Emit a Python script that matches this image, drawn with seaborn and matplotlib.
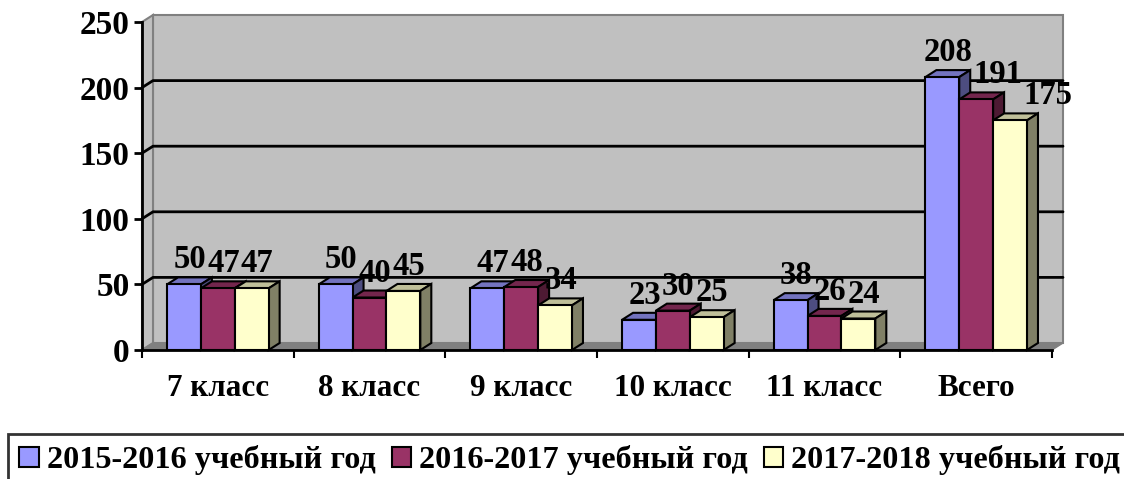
import pandas as pd
import matplotlib.pyplot as plt
import matplotlib.transforms as mtransforms
from matplotlib.patches import Polygon, Patch
import seaborn as sns

categories = ['7 класс', '8 класс', '9 класс', '10 класс', '11 класс', 'Всего']
years = ['2015-2016 учебный год', '2016-2017 учебный год', '2017-2018 учебный год']
values_2015 = [50, 50, 47, 23, 38, 208]
values_2016 = [47, 40, 48, 30, 26, 191]
values_2017 = [47, 45, 34, 25, 24, 175]
colors = ['#9999FF', '#993366', '#FFFFCC']
y_ticks = [0, 50, 100, 150, 200, 250]

W, H = 1124, 479
DX, DY = 11, 7  # depth offset of the 3D effect, pixels


def shade(hex_color, k):
    r, g, b = (int(hex_color[i:i + 2], 16) for i in (1, 3, 5))
    return (r * k / 255, g * k / 255, b * k / 255)


def build_frame():
    rows = []
    for year, vals in zip(years, [values_2015, values_2016, values_2017]):
        for cat, v in zip(categories, vals):
            rows.append({'category': cat, 'year': year, 'value': v})
    return pd.DataFrame(rows)


def px(x, y_top):
    # pixel coords measured from top-left -> display coords
    return (x, H - y_top)


def main():
    df = build_frame()
    sns.set_style('white')
    plt.rcParams['font.family'] = ['Liberation Serif', 'DejaVu Serif']
    plt.rcParams['font.weight'] = 'bold'
    for key in ('text.color', 'axes.labelcolor', 'xtick.color', 'ytick.color'):
        plt.rcParams[key] = 'black'

    fig = plt.figure(figsize=(W / 100, H / 100), dpi=100)
    x0, x1, ytop, ybot = 142, 1052, 22, 350
    ax = fig.add_axes([x0 / W, (H - ybot) / H, (x1 - x0) / W, (ybot - ytop) / H])
    ax.patch.set_visible(False)

    sns.barplot(data=df, x='category', y='value', hue='year', hue_order=years,
                palette=colors, saturation=1, width=0.67, gap=0, edgecolor='black',
                linewidth=1.5, legend=False, ax=ax, zorder=3)
    ax.set_xlim(-0.5, len(categories) - 0.5)
    ax.set_ylim(0, 250)
    ax.set_yticks(y_ticks)
    ax.set_xlabel('')
    ax.set_ylabel('')
    ident = mtransforms.IdentityTransform()

    # walls and floor
    wall = Polygon([px(x0 + DX, ytop - DY), px(x1 + DX, ytop - DY),
                    px(x1 + DX, ybot - DY), px(x0 + DX, ybot - DY)],
                   closed=True, facecolor='#C0C0C0', edgecolor='#808080',
                   lw=1.5, transform=ident, clip_on=False, zorder=0)
    side = Polygon([px(x0, ytop), px(x0 + DX, ytop - DY),
                    px(x0 + DX, ybot - DY), px(x0, ybot)],
                   closed=True, facecolor='#C0C0C0', edgecolor='#808080',
                   lw=1.5, transform=ident, clip_on=False, zorder=0)
    floor = Polygon([px(x0, ybot), px(x0 + DX, ybot - DY),
                     px(x1 + DX, ybot - DY), px(x1, ybot)],
                    closed=True, facecolor='#808080', edgecolor='#808080',
                    lw=1, transform=ident, clip_on=False, zorder=0.5)
    for p in (wall, side, floor):
        ax.add_patch(p)

    # gridlines on the back wall
    for v in y_ticks[1:-1]:
        yd = ax.transData.transform((0, v))[1]
        ax.plot([x0, x0 + DX, x1 + DX], [yd, yd + DY, yd + DY], color='black',
                lw=2, transform=ident, clip_on=False, zorder=1)

    # 3D faces of the bars
    bars = sorted([p for p in ax.patches if hasattr(p, 'get_width') and p.get_height() > 0
                   and p.get_zorder() == 3], key=lambda p: p.get_x())
    labels = []
    for k, bar in enumerate(bars):
        fc = bar.get_facecolor()
        hexc = '#%02X%02X%02X' % tuple(int(round(c * 255)) for c in fc[:3])
        (bx0, by0), (bx1, by1) = ax.transData.transform(
            [(bar.get_x(), 0), (bar.get_x() + bar.get_width(), bar.get_height())])
        z = 3 + 0.01 * k
        bar.set_zorder(z + 0.005)
        top = Polygon([(bx0, by1), (bx1, by1), (bx1 + DX, by1 + DY), (bx0 + DX, by1 + DY)],
                      closed=True, facecolor=shade(hexc, 0.75), edgecolor='black',
                      lw=1.5, transform=ident, clip_on=False, zorder=z)
        sidef = Polygon([(bx1, by0), (bx1 + DX, by0 + DY), (bx1 + DX, by1 + DY), (bx1, by1)],
                        closed=True, facecolor=shade(hexc, 0.5), edgecolor='black',
                        lw=1.5, transform=ident, clip_on=False, zorder=z)
        ax.add_patch(top)
        ax.add_patch(sidef)
        ann = ax.annotate(f'{int(round(bar.get_height()))}',
                          xy=(bar.get_x() + bar.get_width() / 2, bar.get_height()),
                          xytext=(DX * 0.36, (DY + 2) * 0.72), textcoords='offset points',
                          ha='center', va='bottom', fontsize=23.5, fontweight='bold',
                          zorder=10)
        labels.append(ann)

    # nudge data labels right when they collide with the previous one
    fig.canvas.draw()
    renderer = fig.canvas.get_renderer()
    for prev, cur in zip(labels[:-1], labels[1:]):
        b1 = prev.get_window_extent(renderer)
        b2 = cur.get_window_extent(renderer)
        if b2.x0 < b1.x1 and b2.y0 < b1.y1 - 4 and b2.y1 > b1.y0 + 4:
            shift = (b1.x1 - b2.x0 + 1) * 0.72
            ox, oy = cur.xyann
            cur.xyann = (ox + shift, oy)

    # axes styling
    for s in ('top', 'right'):
        ax.spines[s].set_visible(False)
    for s in ('left', 'bottom'):
        ax.spines[s].set_color('black')
        ax.spines[s].set_linewidth(2)
        ax.spines[s].set_zorder(2)
    ax.tick_params(axis='y', which='major', direction='out', length=6, width=2,
                   labelsize=24, pad=3, left=True)
    ax.set_xticks([i for i in range(len(categories))])
    ax.set_xticklabels(categories)
    ax.tick_params(axis='x', which='major', length=0, labelsize=22.4, pad=17)
    ax.set_xticks([i - 0.5 for i in range(len(categories) + 1)], minor=True)
    ax.tick_params(axis='x', which='minor', direction='out', length=6, width=1.5,
                   bottom=True)
    for lab in ax.get_xticklabels() + ax.get_yticklabels():
        lab.set_fontweight('bold')

    handles = [Patch(facecolor=c, edgecolor='black', lw=1.5) for c in colors]
    fig.legend(handles, years, loc='upper left', bbox_to_anchor=(8 / W, 1 - 434 / H),
               ncol=3, frameon=True, fancybox=False, edgecolor='black',
               prop={'size': 23.2, 'weight': 'bold'}, handlelength=0.6,
               handleheight=0.6, handletextpad=0.25, columnspacing=0.5,
               borderpad=0.35, borderaxespad=0).get_frame().set_linewidth(2)

    fig.savefig('out.png', dpi=100)


if __name__ == "__main__":
    main()
